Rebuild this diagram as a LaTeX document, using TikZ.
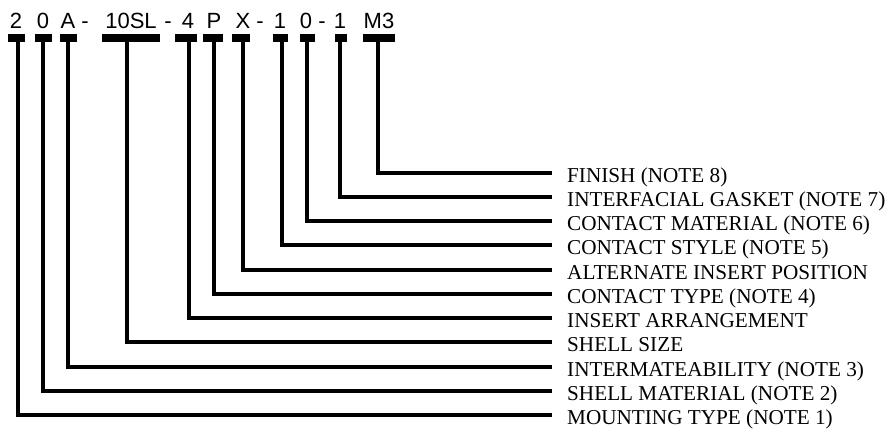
\documentclass[tikz,border=0pt]{standalone}
\usepackage{fontspec}
\setmainfont{Liberation Serif}
\newfontfamily\codefont{Liberation Sans}
\begin{document}
\begin{tikzpicture}[x=1pt,y=-1pt,
  code/.style={font=\codefont\fontsize{22}{22}\selectfont, anchor=base, inner sep=0pt},
  lab/.style={font=\fontsize{21.2}{21.2}\selectfont, anchor=base west, inner sep=0pt},
  bar/.style={fill=black, inner sep=0pt, minimum height=8.5pt, anchor=north},
  conn/.style={line width=3.6pt, line join=miter}]
\useasboundingbox (0,0) rectangle (891,429);
% code characters
\node[code] (t1) at (16,28) {2};
\node[code] (t2) at (43,28) {0};
\node[code] (t3) at (68,28) {A};
\node[code] (h1) at (85,28) {-};
\node[code] (t4) at (131,28) {10SL};
\node[code] (h2) at (168,28) {-};
\node[code] (t5) at (188,28) {4};
\node[code] (t6) at (214,28) {P};
\node[code] (t7) at (243,28) {X};
\node[code] (h3) at (260,28) {-};
\node[code] (t8) at (280,28) {1};
\node[code] (t9) at (306,28) {0};
\node[code] (h4) at (322,28) {-};
\node[code] (t10) at (340,28) {1};
\node[code] (t11) at (379,28) {M3};
% bars
\node[bar, minimum width=17pt] (b1) at (16.5,33.5) {};
\node[bar, minimum width=17pt] (b2) at (43.5,33.5) {};
\node[bar, minimum width=17pt] (b3) at (68.5,33.5) {};
\node[bar, minimum width=58pt] (b4) at (131,33.5) {};
\node[bar, minimum width=22pt] (b5) at (186,33.5) {};
\node[bar, minimum width=20pt] (b6) at (213,33.5) {};
\node[bar, minimum width=18pt] (b7) at (241,33.5) {};
\node[bar, minimum width=15pt] (b8) at (280.5,33.5) {};
\node[bar, minimum width=15pt] (b9) at (307.5,33.5) {};
\node[bar, minimum width=12pt] (b10) at (341,33.5) {};
\node[bar, minimum width=32pt] (b11) at (379,33.5) {};
% line ends
\coordinate (e1) at (552,415);
\coordinate (e2) at (552,391);
\coordinate (e3) at (552,367);
\coordinate (e4) at (552,342);
\coordinate (e5) at (552,318);
\coordinate (e6) at (552,294);
\coordinate (e7) at (552,270);
\coordinate (e8) at (552,245);
\coordinate (e9) at (552,221);
\coordinate (e10) at (552,197);
\coordinate (e11) at (552,173);
% labels
\node[lab] (l1) at (567,424.5) {MOUNTING TYPE (NOTE 1)};
\node[lab] (l2) at (567,400.5) {SHELL MATERIAL (NOTE 2)};
\node[lab] (l3) at (567,376.5) {INTERMATEABILITY (NOTE 3)};
\node[lab] (l4) at (567,351.5) {SHELL SIZE};
\node[lab] (l5) at (567,327.5) {INSERT ARRANGEMENT};
\node[lab] (l6) at (567,303.5) {CONTACT TYPE (NOTE 4)};
\node[lab] (l7) at (567,279.5) {ALTERNATE INSERT POSITION};
\node[lab] (l8) at (567,254.5) {CONTACT STYLE (NOTE 5)};
\node[lab] (l9) at (567,230.5) {CONTACT MATERIAL (NOTE 6)};
\node[lab] (l10) at (567,206.5) {INTERFACIAL GASKET (NOTE 7)};
\node[lab] (l11) at (567,182.5) {FINISH (NOTE 8)};
% connectors
\draw[conn] ([xshift=1.5pt]b1.south) |- (e1);
\draw[conn] ([xshift=-0.5pt]b2.south) |- (e2);
\draw[conn] ([xshift=-0.5pt]b3.south) |- (e3);
\draw[conn] ([xshift=-4pt]b4.south) |- (e4);
\draw[conn] ([xshift=3pt]b5.south) |- (e5);
\draw[conn] ([xshift=1pt]b6.south) |- (e6);
\draw[conn] ([xshift=2pt]b7.south) |- (e7);
\draw[conn] ([xshift=1.5pt]b8.south) |- (e8);
\draw[conn] ([xshift=-0.5pt]b9.south) |- (e9);
\draw[conn] ([xshift=-1pt]b10.south) |- (e10);
\draw[conn] ([xshift=-1pt]b11.south) |- (e11);
\end{tikzpicture}
\end{document}
